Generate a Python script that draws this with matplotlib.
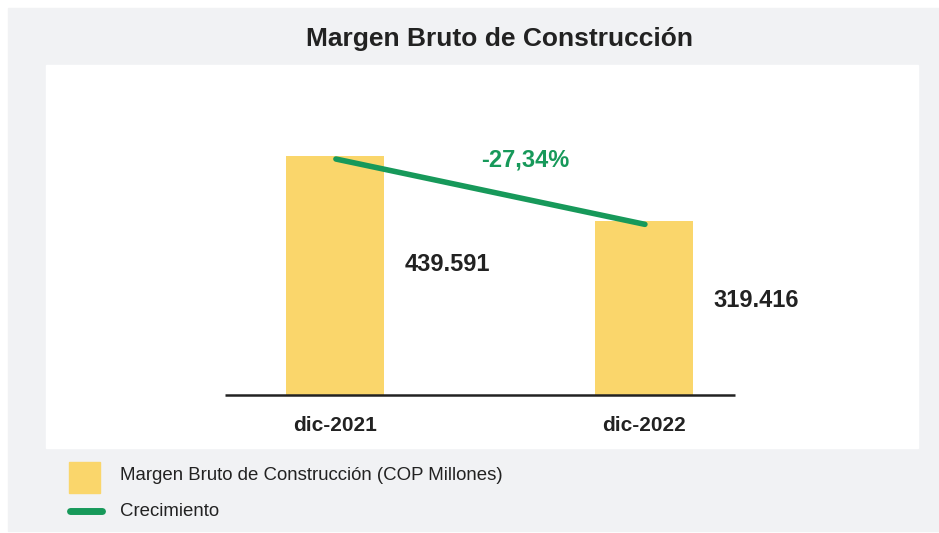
import matplotlib
matplotlib.use('Agg')
from matplotlib import pyplot as plt
from matplotlib.patches import Rectangle
from matplotlib.lines import Line2D
from matplotlib.transforms import offset_copy

plt.rcParams['font.family'] = ['Liberation Sans', 'DejaVu Sans']

periods = ['dic-2021', 'dic-2022']
margen = [439.591, 319.416]
title = 'Margen Bruto de Construcción'
bar_label = 'Margen Bruto de Construcción (COP Millones)'
line_label = 'Crecimiento'

yellow = '#fad66b'
green = '#17995a'
dark = '#222222'

W, H = 939, 533
fig = plt.figure(figsize=(W / 100, H / 100), dpi=100)
fig.patch.set_facecolor('white')

def fx(px):
    return px / W

def fy(py):
    return 1 - py / H

# grey frame and white plot panel
fig.patches.append(Rectangle((fx(8), fy(531)), fx(931), (531 - 8) / H,
                             transform=fig.transFigure, color='#f1f2f4', zorder=-2))
fig.patches.append(Rectangle((fx(46), fy(448)), fx(918 - 46), (448 - 65) / H,
                             transform=fig.transFigure, color='white', zorder=-1))

ax = fig.add_axes([fx(46), fy(395), fx(918 - 46), (395 - 65) / H])
ax.set_zorder(2)
ax.patch.set_alpha(0)
x = [0, 1]
ax.bar(x, margen, width=0.317, color=yellow, zorder=2)
# growth line sits just below the bar tops
line_tr = offset_copy(ax.transData, fig=fig, x=1, y=-3, units='dots')
ax.plot(x, margen, color=green, lw=4, solid_capstyle='round', zorder=3,
        transform=line_tr)
ax.hlines(0, -0.356, 1.294, color=dark, lw=1.8, zorder=4, clip_on=False)

for xi, v in zip(x, margen):
    ax.text(xi + 0.363, v * 0.545, f'{v:.3f}', ha='center', va='center',
            fontsize=17, fontweight='bold', color=dark)

growth = (margen[1] / margen[0] - 1) * 100
ax.text(0.617, margen[0] * 0.983, f'{growth:.2f}%'.replace('.', ','),
        ha='center', va='center', fontsize=17, fontweight='bold', color=green)

ax.set_xlim(-0.935, 1.887)
ax.set_ylim(0, 607)
ax.set_xticks(x)
ax.set_xticklabels(periods, fontsize=15, fontweight='bold', color=dark)
ax.tick_params(axis='x', length=0, pad=15)
ax.set_yticks([])
for s in ax.spines.values():
    s.set_visible(False)

fig.text(fx(500), fy(39), title, ha='center', va='center',
         fontsize=19, fontweight='bold', color=dark)

# legend
fig.patches.append(Rectangle((fx(69), fy(493)), fx(31), 31 / H,
                             transform=fig.transFigure, color=yellow, zorder=1))
fig.lines.append(Line2D([fx(70), fx(102)], [fy(511), fy(511)], transform=fig.transFigure,
                        color=green, lw=5, solid_capstyle='round'))
fig.text(fx(120), fy(476), bar_label, ha='left', va='center', fontsize=13.4, color=dark)
fig.text(fx(120), fy(511), line_label, ha='left', va='center', fontsize=13.4, color=dark)

fig.savefig('out.png', dpi=100)
